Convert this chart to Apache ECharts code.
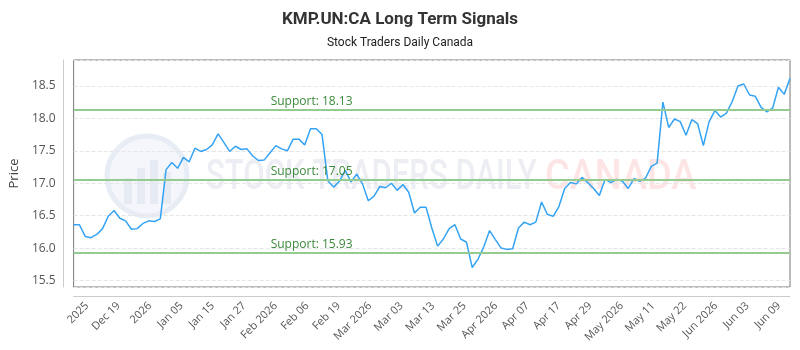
<!DOCTYPE html>
<html>
<head>
<meta charset="utf-8">
<script src="https://cdn.jsdelivr.net/npm/echarts@6/dist/echarts.min.js"></script>
<style>
html,body{margin:0;padding:0;background:#fff;}
#chart{width:800px;height:350px;}
</style>
</head>
<body>
<div id="chart"></div>
<script>
const titleText = "KMP.UN:CA Long Term Signals";
const subtitleText = "Stock Traders Daily Canada";

const dates = [
 "2025-12-18","2025-12-19","2025-12-22","2025-12-23","2025-12-24","2025-12-25","2025-12-26","2025-12-29","2025-12-30","2025-12-31",
 "2026-01-01","2026-01-02","2026-01-05","2026-01-06","2026-01-07","2026-01-08","2026-01-09","2026-01-12","2026-01-13","2026-01-14",
 "2026-01-15","2026-01-16","2026-01-19","2026-01-20","2026-01-21","2026-01-22","2026-01-23","2026-01-26","2026-01-27","2026-01-28",
 "2026-01-29","2026-01-30","2026-02-02","2026-02-03","2026-02-04","2026-02-05","2026-02-06","2026-02-09","2026-02-10","2026-02-11",
 "2026-02-12","2026-02-13","2026-02-16","2026-02-17","2026-02-18","2026-02-19","2026-02-20","2026-02-23","2026-02-24","2026-02-25",
 "2026-02-26","2026-02-27","2026-03-02","2026-03-03","2026-03-04","2026-03-05","2026-03-06","2026-03-09","2026-03-10","2026-03-11",
 "2026-03-12","2026-03-13","2026-03-16","2026-03-17","2026-03-18","2026-03-19","2026-03-20","2026-03-23","2026-03-24","2026-03-25",
 "2026-03-26","2026-03-27","2026-03-30","2026-03-31","2026-04-01","2026-04-02","2026-04-03","2026-04-06","2026-04-07","2026-04-08",
 "2026-04-09","2026-04-10","2026-04-13","2026-04-14","2026-04-15","2026-04-16","2026-04-17","2026-04-20","2026-04-21","2026-04-22",
 "2026-04-23","2026-04-24","2026-04-27","2026-04-28","2026-04-29","2026-04-30","2026-05-01","2026-05-04","2026-05-05","2026-05-06",
 "2026-05-07","2026-05-08","2026-05-11","2026-05-12","2026-05-13","2026-05-14","2026-05-15","2026-05-18","2026-05-19","2026-05-20",
 "2026-05-21","2026-05-22","2026-05-25","2026-05-26","2026-05-27","2026-05-28","2026-05-29","2026-06-01","2026-06-02","2026-06-03",
 "2026-06-04","2026-06-05","2026-06-08","2026-06-09","2026-06-10"
];

const prices = [
 16.36,16.36,16.18,16.16,16.21,16.30,16.49,16.58,16.46,16.42,
 16.29,16.30,16.38,16.42,16.41,16.45,17.21,17.32,17.23,17.40,
 17.33,17.54,17.49,17.52,17.59,17.76,17.63,17.49,17.57,17.52,
 17.53,17.42,17.35,17.36,17.47,17.58,17.53,17.50,17.68,17.68,
 17.59,17.84,17.84,17.75,17.04,16.94,17.03,17.20,17.02,17.14,
 16.99,16.73,16.80,16.95,16.93,17.00,16.89,16.98,16.86,16.54,
 16.63,16.63,16.31,16.03,16.14,16.30,16.36,16.14,16.09,15.70,
 15.83,16.02,16.27,16.13,16.00,15.98,15.99,16.31,16.40,16.36,
 16.40,16.71,16.52,16.49,16.64,16.92,17.01,16.99,17.09,17.01,
 16.92,16.81,17.06,17.01,17.06,17.03,16.92,17.07,17.03,17.08,
 17.26,17.31,18.25,17.86,17.99,17.95,17.74,17.98,17.92,17.58,
 17.95,18.12,18.02,18.08,18.26,18.50,18.53,18.36,18.34,18.17,
 18.10,18.16,18.48,18.37,18.62
];

const tickLabels = [
 "2025","Dec 19","2026","Jan 05","Jan 15","Jan 27","Feb 2026","Feb 06","Feb 19",
 "Mar 2026","Mar 03","Mar 13","Mar 25","Apr 2026","Apr 07","Apr 17","Apr 29",
 "May 2026","May 11","May 22","Jun 2026","Jun 03","Jun 09"
];

const supportLevels = [18.13, 17.05, 15.93];
const yMin = 15.4, yMax = 18.9;

const chart = echarts.init(document.getElementById('chart'), null, {renderer:'canvas'});

const option = {
  animation: false,
  backgroundColor: '#fff',
  title: [{
    text: titleText,
    left: 'center', top: 6,
    textStyle: {fontFamily: 'Roboto', fontWeight: 'bold', fontSize: 17, color: '#333'}
  },{
    text: subtitleText,
    left: 'center', top: 32,
    textStyle: {fontFamily: 'Roboto', fontWeight: 'normal', fontSize: 12, color: '#222'}
  }],
  graphic: [
    {type:'circle', z:0, silent:true, shape:{cx:147, cy:176, r:40},
     style:{fill:'#f4f6fb', stroke:'#e8ecf4', lineWidth:5}},
    {type:'rect', z:0, silent:true, shape:{x:124, y:178, width:8, height:26}, style:{fill:'#e6eaf2'}},
    {type:'rect', z:0, silent:true, shape:{x:137, y:168, width:8, height:36}, style:{fill:'#e6eaf2'}},
    {type:'rect', z:0, silent:true, shape:{x:150, y:160, width:8, height:44}, style:{fill:'#e6eaf2'}},
    {type:'rect', z:0, silent:true, shape:{x:163, y:172, width:8, height:32}, style:{fill:'#e6eaf2'}},
    {type:'text', z:0, silent:true, x:206, y:178, scaleX:0.74,
     style:{text:'STOCK TRADERS DAILY', font:'500 42px Roboto', fill:'#eceef4', verticalAlign:'middle', align:'left'}},
    {type:'text', z:0, silent:true, x:545, y:178, scaleX:0.9,
     style:{text:'CANADA', font:'500 42px Roboto', fill:'#fde5e5', verticalAlign:'middle', align:'left'}}
  ],
  grid: [
    {left:70, right:10, top:60, bottom:63, show:true, borderColor:'#777', borderWidth:1, backgroundColor:'transparent'},
    {left:87, right:21, top:60, bottom:63, show:false}
  ],
  xAxis: [
    {type:'category', gridIndex:0, data:dates, boundaryGap:false, offset:9,
     axisLine:{show:true, lineStyle:{color:'#ccc'}}, axisTick:{show:false},
     axisLabel:{show:false}, splitLine:{show:false}},
    {type:'category', gridIndex:1, data:tickLabels, boundaryGap:false, offset:9,
     axisLine:{show:false}, axisTick:{show:false},
     axisLabel:{show:true, interval:0, rotate:45, margin:8, fontFamily:'Open Sans', fontSize:11, color:'#555'},
     splitLine:{show:false}}
  ],
  yAxis: [
    {type:'value', gridIndex:0, min:yMin, max:yMax, splitNumber:7, minInterval:0.5, maxInterval:0.5, offset:10,
     name:'Price', nameLocation:'middle', nameGap:37,
     nameTextStyle:{fontFamily:'Open Sans', fontSize:13, color:'#444'},
     axisLine:{show:true, lineStyle:{color:'#ccc'}}, axisTick:{show:false},
     axisLabel:{showMinLabel:false, showMaxLabel:false, fontFamily:'Open Sans', fontSize:12, color:'#555', margin:8,
                formatter: v => v.toFixed(1)},
     splitLine:{show:true, lineStyle:{color:'#e6e6e6', type:'dashed'}}},
    {type:'value', gridIndex:1, show:false}
  ],
  series: [{
    type:'line', xAxisIndex:0, yAxisIndex:0, data:prices, showSymbol:false, symbol:'none',
    lineStyle:{color:'#35a3f4', width:1.5}, itemStyle:{color:'#35a3f4'}, z:3,
    markLine:{
      silent:true, symbol:'none', animation:false,
      lineStyle:{color:'#94cb90', width:2, type:'solid'},
      label:{show:true, position:'insideStartTop', distance:[197, 2],
             fontFamily:'Open Sans', fontSize:12, color:'#3b8a3b',
             formatter: p => 'Support: ' + p.value.toFixed(2)},
      data: supportLevels.map(v => ({yAxis:v}))
    }
  }]
};
chart.setOption(option);
</script>
</body>
</html>
